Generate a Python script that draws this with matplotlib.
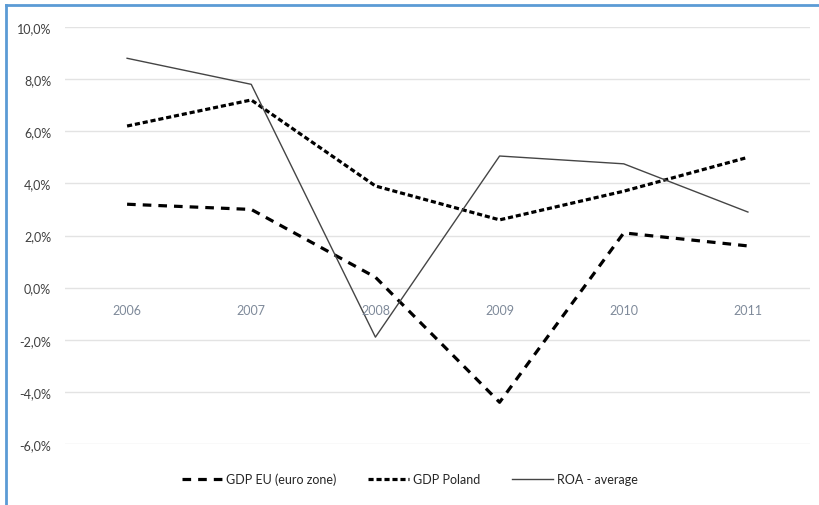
import matplotlib

matplotlib.use("agg")
from matplotlib import pyplot as plt
from matplotlib.lines import Line2D
from matplotlib.ticker import FuncFormatter

years = ["2006", "2007", "2008", "2009", "2010", "2011"]
gdp_eu = [3.2, 3.0, 0.4, -4.4, 2.1, 1.6]
gdp_poland = [6.2, 7.2, 3.9, 2.6, 3.7, 5.0]
roa_avg = [8.8, 7.8, -1.9, 5.05, 4.75, 2.9]

plt.rcParams["font.family"] = ["Lato", "DejaVu Sans"]

EU_DASH = (0, (2.7, 2.2))
PL_DASH = (0, (1.6, 0.9))

fig = plt.figure(figsize=(8.19, 5.06), dpi=100)
ax = fig.add_axes([65 / 819, 1 - 445 / 506, 745 / 819, 417 / 506])

x = list(range(len(years)))
ax.plot(x, gdp_eu, color="black", lw=2.3, linestyle=EU_DASH, label="GDP EU (euro zone)")
ax.plot(x, gdp_poland, color="black", lw=2.3, linestyle=PL_DASH, label="GDP Poland")
ax.plot(x, roa_avg, color="#454545", lw=1.0, label="ROA - average")

ax.set_xlim(-0.5, len(years) - 0.5)
ax.set_ylim(-6, 10)
ax.set_yticks(range(-6, 11, 2))
ax.yaxis.set_major_formatter(FuncFormatter(lambda v, _: f"{v:.1f}%".replace(".", ",")))
ax.grid(axis="y", color="#e3e3e3", lw=1)
ax.set_axisbelow(True)
ax.tick_params(axis="y", length=0, pad=10, labelsize=9, labelcolor="#404040")
ax.set_xticks([])
for s in ax.spines.values():
    s.set_visible(False)

# category labels sit just under the zero line
for xi, yr in zip(x, years):
    ax.text(xi, -0.85, yr, ha="center", va="center", fontsize=9, color="#7f8a9a")

handles = [
    Line2D([], [], color="black", lw=2.3, linestyle=EU_DASH),
    Line2D([], [], color="black", lw=2.3, linestyle=PL_DASH),
    Line2D([], [], color="#454545", lw=1.0),
]
fig.legend(handles, ["GDP EU (euro zone)", "GDP Poland", "ROA - average"],
           loc="center", bbox_to_anchor=(0.5, 1 - 480 / 506), ncol=3, frameon=False,
           fontsize=9, handlelength=3.3, handletextpad=0.3, columnspacing=2.5,
           labelcolor="#262626")

# blue frame along the left and top edges
fig.add_artist(Line2D([6 / 819, 6 / 819], [0, 1 - 6 / 506], color="#5b9bd5", lw=2,
                      transform=fig.transFigure))
fig.add_artist(Line2D([6 / 819, 1], [1 - 6 / 506, 1 - 6 / 506], color="#5b9bd5", lw=2,
                      transform=fig.transFigure))

fig.savefig("out.png")
